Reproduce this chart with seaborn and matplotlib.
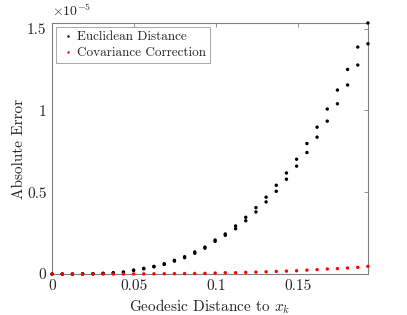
import pandas as pd
import seaborn as sns
import matplotlib.pyplot as plt

# geodesic distance samples
dist = [0.0, 0.0062, 0.0124, 0.0186, 0.0249, 0.0311, 0.0373, 0.0435,
        0.0497, 0.0559, 0.0621, 0.0684, 0.0746, 0.0808, 0.0870, 0.0932,
        0.0994, 0.1056, 0.1119, 0.1181, 0.1243, 0.1305, 0.1367, 0.1429,
        0.1491, 0.1554, 0.1616, 0.1678, 0.1740, 0.1802, 0.1864, 0.1926]

# absolute error, in units of 1e-5
eucl_a = [0.0, 0.0, 0.0, 0.001, 0.002, 0.004, 0.008, 0.012,
          0.024, 0.035, 0.047, 0.063, 0.084, 0.106, 0.135, 0.165,
          0.208, 0.245, 0.294, 0.347, 0.406, 0.470, 0.543, 0.618,
          0.702, 0.798, 0.898, 1.009, 1.125, 1.251, 1.388, 1.535]
eucl_b = [0.0, 0.0, 0.0, 0.001, 0.002, 0.004, 0.007, 0.011,
          0.022, 0.032, 0.044, 0.059, 0.079, 0.100, 0.127, 0.158,
          0.200, 0.237, 0.277, 0.326, 0.380, 0.441, 0.506, 0.580,
          0.660, 0.743, 0.837, 0.935, 1.041, 1.156, 1.278, 1.408]
cov = [0.0, 0.0, 0.0, 0.0, 0.0001, 0.0002, 0.0003, 0.0005,
       0.0008, 0.001, 0.0015, 0.002, 0.0025, 0.003, 0.0035, 0.004,
       0.006, 0.008, 0.008, 0.010, 0.012, 0.014, 0.016, 0.018,
       0.020, 0.024, 0.027, 0.031, 0.033, 0.037, 0.041, 0.047]

xticks = [0, 0.05, 0.1, 0.15]
xticklabels = ['0', '0.05', '0.1', '0.15']
yticks = [0, 0.5, 1, 1.5]
yticklabels = ['0', '0.5', '1', '1.5']

sns.set_style('white')
plt.rcParams['font.family'] = 'serif'
plt.rcParams['font.serif'] = ['cmr10']
plt.rcParams['mathtext.fontset'] = 'cm'
plt.rcParams['axes.unicode_minus'] = False

df1 = pd.DataFrame({'x': dist, 'y': eucl_a, 'method': 'Euclidean Distance'})
df2 = pd.DataFrame({'x': dist, 'y': eucl_b, 'method': 'Euclidean Distance'})
df3 = pd.DataFrame({'x': dist, 'y': cov, 'method': 'Covariance Correction'})
df = pd.concat([df1, df2, df3])

fig = plt.figure(figsize=(4.07, 3.15), dpi=100)
ax = fig.add_axes([0.128, 0.130, 0.776, 0.797])
sns.scatterplot(data=df, x='x', y='y', hue='method', ax=ax,
                palette={'Euclidean Distance': 'black', 'Covariance Correction': 'red'},
                s=6, linewidth=0, clip_on=False, zorder=3)

ax.set_xlim(0, max(dist))
ax.set_ylim(0, max(eucl_a))
ax.set_xticks(xticks)
ax.set_xticklabels(xticklabels)
ax.set_yticks(yticks)
ax.set_yticklabels(yticklabels)
ax.tick_params(direction='in', length=3, width=0.6, colors='#808080',
               labelcolor='#262626', labelsize=11, top=True, right=True, pad=4)
for sp in ax.spines.values():
    sp.set_color('#808080')
    sp.set_linewidth(0.8)

ax.set_xlabel('Geodesic Distance to $x_k$', fontsize=11, color='#262626', labelpad=3)
ax.set_ylabel('Absolute Error', fontsize=11, color='#262626', labelpad=1)
ax.text(0.0, 1.015, r'$\times10^{-5}$', transform=ax.transAxes, fontsize=10,
        color='#262626', ha='left', va='bottom')

leg = ax.legend(loc='upper left', fontsize=9.5, frameon=True, fancybox=False,
                borderaxespad=0.3, handletextpad=0.1, borderpad=0.3,
                labelspacing=0.3, markerscale=0.7, handlelength=1.2)
leg.get_frame().set_edgecolor('#808080')
leg.get_frame().set_linewidth(0.6)

fig.savefig('out.png', dpi=100)
